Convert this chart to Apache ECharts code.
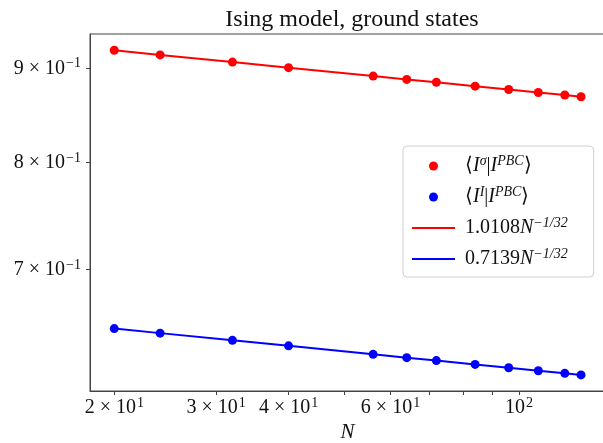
<!DOCTYPE html>
<html>
<head>
<meta charset="utf-8">
<script src="https://cdn.jsdelivr.net/npm/echarts@6/dist/echarts.min.js"></script>
<style>
  html, body { margin: 0; padding: 0; background: #fff; }
  #chart { width: 603px; height: 443px; }
</style>
</head>
<body>
<div id="chart"></div>
<script>
// 系统尺寸 N
const sizes = [20, 24, 32, 40, 56, 64, 72, 84, 96, 108, 120, 128];
// 重叠 <I^sigma|I^PBC>
const overlapSigma = [0.9205, 0.9152, 0.9070, 0.9007, 0.8913, 0.8876, 0.8844, 0.8801, 0.8764, 0.8732, 0.8704, 0.8686];
// 重叠 <I^I|I^PBC>
const overlapIdentity = [0.6501, 0.6464, 0.6406, 0.6362, 0.6295, 0.6269, 0.6246, 0.6216, 0.6190, 0.6167, 0.6147, 0.6135];
// 拟合曲线
const fitSigma = [0.9205, 0.9152, 0.9070, 0.9007, 0.8913, 0.8876, 0.8844, 0.8801, 0.8764, 0.8732, 0.8704, 0.8686];
const fitIdentity = [0.6501, 0.6464, 0.6406, 0.6362, 0.6295, 0.6269, 0.6246, 0.6216, 0.6190, 0.6167, 0.6147, 0.6135];

// 刻度
const xTicks = [20, 30, 40, 50, 60, 70, 80, 90, 100];
const xLabelTicks = [20, 30, 40, 60, 100];
const xTickText = { 20: ['2 × 10', '1'], 30: ['3 × 10', '1'], 40: ['4 × 10', '1'], 60: ['6 × 10', '1'], 100: ['10', '2'] };
const yTicks = [0.7, 0.8, 0.9];
const yTickText = { 7: ['7 × 10', '−1'], 8: ['8 × 10', '−1'], 9: ['9 × 10', '−1'] };

const legendText = {
    sigma: '{t|⟨}{i|I}{s|σ}{t||}{i|I}{s|PBC}{t|⟩}',
    ident: '{t|⟨}{i|I}{s|I}{t||}{i|I}{s|PBC}{t|⟩}',
    fitSigma: '{t|1.0108}{i|N}{s|−1/32}',
    fitIdent: '{t|0.7139}{i|N}{s|−1/32}'
};

const serif = 'Liberation Serif';
const pair = (xs, ys) => xs.map((x, i) => [x, ys[i]]);

const supRich = {
    m: { fontFamily: serif, fontSize: 20, color: '#111', lineHeight: 22 },
    s: { fontFamily: serif, fontSize: 14, color: '#111', verticalAlign: 'bottom', padding: [0, 0, 9, 1] }
};

const chart = echarts.init(document.getElementById('chart'), null, { renderer: 'canvas' });

chart.setOption({
    animation: false,
    backgroundColor: '#fff',
    title: {
        text: 'Ising model, ground states',
        left: 347, top: 3, textAlign: 'center',
        textStyle: { fontFamily: serif, fontSize: 24, fontWeight: 'normal', color: '#111' }
    },
    grid: {
        left: 90, top: 34, width: 515, height: 357,
        outerBoundsMode: 'none', containLabel: false,
        show: true, borderColor: '#444', borderWidth: 1, backgroundColor: 'transparent'
    },
    legend: {
        orient: 'vertical',
        left: 403, top: 146,
        width: 190,
        padding: [8, 26, 8, 8],
        itemWidth: 43, itemHeight: 9,
        itemGap: 9,
        borderColor: '#d0d0d0', borderWidth: 1, borderRadius: 4,
        backgroundColor: 'rgba(255,255,255,0.8)',
        data: [
            { name: 'sigma', icon: 'circle' },
            { name: 'ident', icon: 'circle' },
            { name: 'fitSigma', itemStyle: { color: 'rgba(0,0,0,0)', borderWidth: 0 } },
            { name: 'fitIdent', itemStyle: { color: 'rgba(0,0,0,0)', borderWidth: 0 } }
        ],
        formatter: name => legendText[name],
        textStyle: {
            padding: [0, 0, 0, 5],
            rich: {
                t: { fontFamily: serif, fontSize: 20, color: '#111', lineHeight: 22 },
                i: { fontFamily: serif, fontSize: 20, fontStyle: 'italic', color: '#111', lineHeight: 22 },
                s: { fontFamily: serif, fontSize: 14, fontStyle: 'italic', color: '#111', verticalAlign: 'bottom', padding: [0, 0, 10, 0] }
            }
        }
    },
    xAxis: {
        type: 'log', logBase: 10,
        min: 18.16, max: 140.8,
        name: 'N', nameLocation: 'middle', nameGap: 8,
        nameTextStyle: { fontFamily: serif, fontSize: 21, fontStyle: 'italic', color: '#111' },
        axisLine: { show: true, lineStyle: { color: '#444', width: 1 } },
        axisTick: { show: true, length: 4, customValues: xTicks, lineStyle: { color: '#444' } },
        minorTick: { show: false },
        splitLine: { show: false },
        axisLabel: {
            customValues: xLabelTicks,
            margin: 5,
            formatter: v => {
                const t = xTickText[Math.round(v)];
                return t ? '{m|' + t[0] + '}{s|' + t[1] + '}' : '';
            },
            rich: supRich
        }
    },
    yAxis: {
        type: 'log', logBase: 10,
        min: 0.6013, max: 0.9394,
        axisLine: { show: true, lineStyle: { color: '#444', width: 1 } },
        axisTick: { show: true, length: 4, customValues: yTicks, lineStyle: { color: '#444' } },
        splitLine: { show: false },
        axisLabel: {
            customValues: yTicks,
            margin: 9,
            formatter: v => {
                const t = yTickText[Math.round(v * 10)];
                return t ? '{m|' + t[0] + '}{s|' + t[1] + '}' : '';
            },
            rich: supRich
        }
    },
    series: [
        {
            name: 'fitSigma', type: 'line', data: pair(sizes, fitSigma),
            showSymbol: false, symbol: 'none',
            lineStyle: { color: '#ff0000', width: 2 }, itemStyle: { color: '#ff0000' }, z: 2
        },
        {
            name: 'fitIdent', type: 'line', data: pair(sizes, fitIdentity),
            showSymbol: false, symbol: 'none',
            lineStyle: { color: '#0000ff', width: 2 }, itemStyle: { color: '#0000ff' }, z: 2
        },
        {
            name: 'sigma', type: 'scatter', data: pair(sizes, overlapSigma),
            symbol: 'circle', symbolSize: 9, itemStyle: { color: '#ff0000', opacity: 1 }, z: 3
        },
        {
            name: 'ident', type: 'scatter', data: pair(sizes, overlapIdentity),
            symbol: 'circle', symbolSize: 9, itemStyle: { color: '#0000ff', opacity: 1 }, z: 3
        }
    ]
});
</script>
</body>
</html>
